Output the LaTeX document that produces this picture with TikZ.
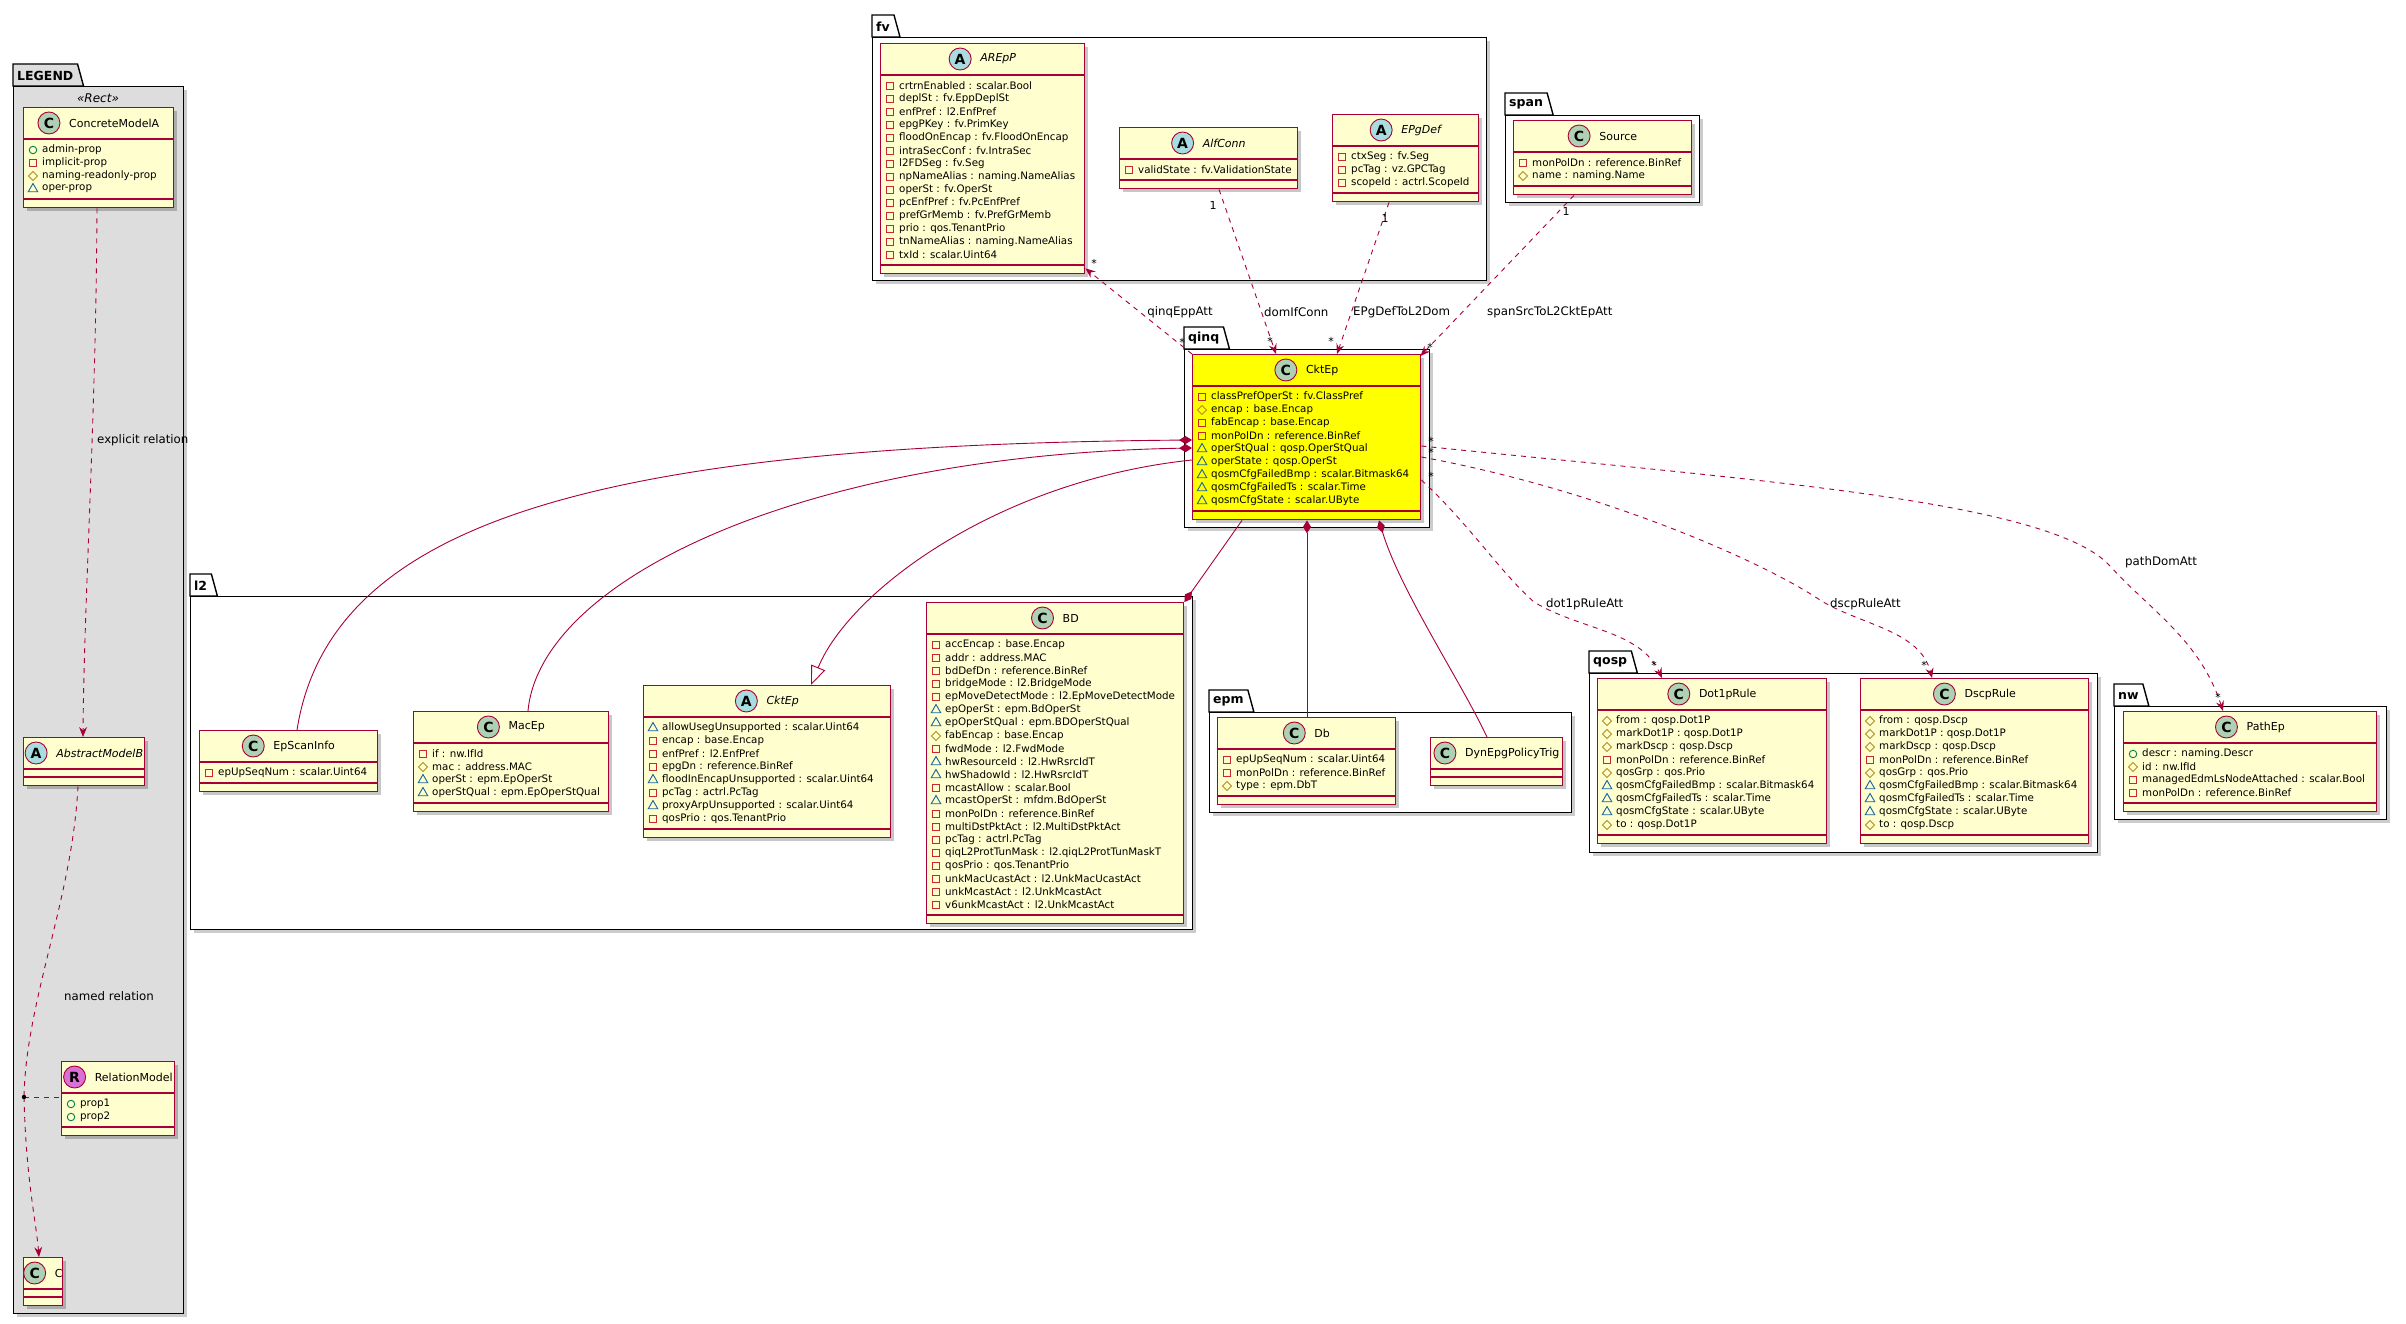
\documentclass[tikz,border=0pt]{standalone}
\usepackage{fontspec}
\setmainfont{DejaVu Sans}
\usetikzlibrary{arrows.meta,shapes.geometric,calc}
\definecolor{uml}{HTML}{A80036}
\definecolor{classbg}{HTML}{FEFECE}
\definecolor{circC}{HTML}{ADD1B2}
\definecolor{circA}{HTML}{A9DCDF}
\definecolor{circR}{HTML}{DA70D6}
\definecolor{privred}{HTML}{C82930}
\definecolor{protgold}{HTML}{B38D22}
\definecolor{pkgblue}{HTML}{1963A0}
\definecolor{pubgreen}{HTML}{038048}
\definecolor{legendbg}{HTML}{DDDDDD}
\definecolor{hiyellow}{HTML}{FFFF00}
\tikzset{
  attrtext/.style={font=\fontsize{10.3}{12}\selectfont, anchor=west, inner sep=0},
  titletext/.style={font=\fontsize{11}{13}\selectfont, inner sep=0},
  mkp/.style={rectangle, draw=privred, line width=0.9pt, minimum size=7pt, inner sep=0},
  mko/.style={diamond, draw=protgold, line width=0.9pt, minimum size=9.5pt, inner sep=0},
  mkk/.style={regular polygon, regular polygon sides=3, draw=pkgblue, line width=0.9pt, minimum size=11pt, inner sep=0},
  mku/.style={circle, draw=pubgreen, line width=0.9pt, minimum size=7.5pt, inner sep=0},
  classbox/.style={draw=uml, line width=1.4pt, inner sep=0, anchor=north west},
  depline/.style={uml, line width=0.9pt, dash pattern=on 5pt off 5pt},
  dep/.style={depline, -{Stealth[length=10pt,width=8pt,inset=3.5pt]}},
  assoc/.style={uml, line width=0.9pt},
  elabel/.style={font=\fontsize{11.8}{14}\selectfont, inner sep=0},
  mult/.style={font=\fontsize{11}{13}\selectfont, inner sep=0},
  pkgname/.style={font=\bfseries\fontsize{12.5}{14}\selectfont, inner sep=0, anchor=west},
}
% #1 name, #2 x1, #3 y1, #4 x2, #5 n attrs, #6 letter, #7 title, #8 attrs, #9 fill
\newcommand{\umlclass}[9]{%
  \pgfmathsetmacro{\cw}{#4-#2}%
  \pgfmathsetmacro{\ch}{48+13*#5}%
  \fill[black, opacity=0.22] (#2+4,#3+4) rectangle (#4+4,#3+\ch+4);
  \node[classbox, fill=#9, minimum width=\cw pt, minimum height=\ch pt] (#1) at (#2,#3) {};
  \draw[uml, line width=1.2pt] (#2,#3+32) -- (#4,#3+32);
  \draw[uml, line width=1.2pt] (#2,#3+\ch-8) -- (#4,#3+\ch-8);
  \node[titletext] (#1-t) at ($(#1.north)+(15.5,16)$) {#7};
  \node[circle, draw=uml, line width=0.9pt, fill=circ#6, minimum size=22pt, inner sep=0,
        font=\bfseries\fontsize{14}{14}\selectfont] (#1-c) at ($(#1-t.west)+(-20,0)$) {#6};
  \ifnum#5>0
  \foreach \q/\txt [count=\i from 0] in {#8} {
    \node[mk\q] at (#2+10,#3+43+13*\i) {};
    \node[attrtext] at (#2+19,#3+43+13*\i) {\txt};
  }
  \fi
}
% #1 name, #2 x1, #3 tab top, #4 x2, #5 bottom, #6 label, #7 fill
\newcommand{\umlpkg}[7]{%
  \pgfmathsetmacro{\pw}{#4-#2}%
  \pgfmathsetmacro{\ph}{#5-#3-22}%
  \fill[black,opacity=0.2] (#2+4,#3+26) rectangle (#4+4,#5+4);
  \node[pkgname] (#1-l) at (#2+4,#3+11.5) {\phantom{#6}};
  \draw[line width=1.4pt, fill=#7] (#2,#3+22) -- (#2,#3) -- ($(#1-l.east)+(4,-11.5)$) -- ($(#1-l.east)+(10,10.5)$) -- cycle;
  \node[draw, line width=1.4pt, fill=#7, minimum width=\pw pt, minimum height=\ph pt, anchor=north west, inner sep=0] (#1) at (#2,#3+22) {};
  \node[pkgname] (#1-n) at (#1-l.west) {#6};
}
\begin{document}
\begin{tikzpicture}[x=1pt,y=-1pt]
\fill[white] (0,0) rectangle (2406,1324);
\useasboundingbox (0,0) rectangle (2406,1324);

% ---------------- packages
\umlpkg{pLEGEND}{13}{64}{183}{1313}{LEGEND}{legendbg}
\umlpkg{pfv}{872}{15}{1486}{280}{fv}{white}
\umlpkg{pspan}{1505}{93}{1699}{202}{span}{white}
\umlpkg{pqinq}{1184}{327}{1429}{527}{qinq}{white}
\umlpkg{pl2}{190}{574}{1192}{929}{l2}{white}
\umlpkg{pepm}{1209}{690}{1571}{812}{epm}{white}
\umlpkg{pqosp}{1589}{651}{2097}{852}{qosp}{white}
\umlpkg{pnw}{2114}{684}{2386}{819}{nw}{white}
\node[font=\itshape\fontsize{12}{14}\selectfont, inner sep=0] (stereo) at (98,98) {«Rect»};

% ---------------- classes
\umlclass{ConcreteModelA}{23}{107}{173}{4}{C}{ConcreteModelA}{u/admin-prop, p/implicit-prop, o/naming-readonly-prop, k/oper-prop}{classbg}
\umlclass{AbstractModelB}{23}{737}{144}{0}{A}{\itshape AbstractModelB}{}{classbg}
\umlclass{RelationModel}{61}{1061}{174}{2}{R}{RelationModel}{u/prop1, u/prop2}{classbg}
\umlclass{Cc}{23}{1257}{62}{0}{C}{C}{}{classbg}

\umlclass{AREpP}{880}{43}{1084}{14}{A}{\itshape AREpP}{p/crtrnEnabled : scalar.Bool, p/deplSt : fv.EppDeplSt, p/enfPref : l2.EnfPref, p/epgPKey : fv.PrimKey, p/floodOnEncap : fv.FloodOnEncap, p/intraSecConf : fv.IntraSec, p/l2FDSeg : fv.Seg, p/npNameAlias : naming.NameAlias, p/operSt : fv.OperSt, p/pcEnfPref : fv.PcEnfPref, p/prefGrMemb : fv.PrefGrMemb, p/prio : qos.TenantPrio, p/tnNameAlias : naming.NameAlias, p/txId : scalar.Uint64}{classbg}
\umlclass{AlfConn}{1119}{127}{1297}{1}{A}{\itshape AlfConn}{p/validState : fv.ValidationState}{classbg}
\umlclass{EPgDef}{1332}{114}{1478}{3}{A}{\itshape EPgDef}{p/ctxSeg : fv.Seg, p/pcTag : vz.GPCTag, p/scopeId : actrl.ScopeId}{classbg}
\umlclass{Source}{1513}{120}{1691}{2}{C}{Source}{p/monPolDn : reference.BinRef, o/name : naming.Name}{classbg}
\umlclass{CktEp}{1192}{354}{1420}{9}{C}{CktEp}{p/classPrefOperSt : fv.ClassPref, o/encap : base.Encap, p/fabEncap : base.Encap, p/monPolDn : reference.BinRef, k/operStQual : qosp.OperStQual, k/operState : qosp.OperSt, k/qosmCfgFailedBmp : scalar.Bitmask64, k/qosmCfgFailedTs : scalar.Time, k/qosmCfgState : scalar.UByte}{hiyellow}

\umlclass{EpScanInfo}{199}{730}{377}{1}{C}{EpScanInfo}{p/epUpSeqNum : scalar.Uint64}{classbg}
\umlclass{MacEp}{413}{711}{608}{4}{C}{MacEp}{p/if : nw.IfId, o/mac : address.MAC, k/operSt : epm.EpOperSt, k/operStQual : epm.EpOperStQual}{classbg}
\umlclass{L2CktEp}{643}{685}{890}{8}{A}{\itshape CktEp}{k/allowUsegUnsupported : scalar.Uint64, p/encap : base.Encap, p/enfPref : l2.EnfPref, p/epgDn : reference.BinRef, k/floodInEncapUnsupported : scalar.Uint64, p/pcTag : actrl.PcTag, k/proxyArpUnsupported : scalar.Uint64, p/qosPrio : qos.TenantPrio}{classbg}
\umlclass{BD}{926}{602}{1183}{21}{C}{BD}{p/accEncap : base.Encap, p/addr : address.MAC, p/bdDefDn : reference.BinRef, p/bridgeMode : l2.BridgeMode, p/epMoveDetectMode : l2.EpMoveDetectMode, k/epOperSt : epm.BdOperSt, k/epOperStQual : epm.BDOperStQual, o/fabEncap : base.Encap, p/fwdMode : l2.FwdMode, k/hwResourceId : l2.HwRsrcIdT, k/hwShadowId : l2.HwRsrcIdT, p/mcastAllow : scalar.Bool, k/mcastOperSt : mfdm.BdOperSt, p/monPolDn : reference.BinRef, p/multiDstPktAct : l2.MultiDstPktAct, p/pcTag : actrl.PcTag, p/qiqL2ProtTunMask : l2.qiqL2ProtTunMaskT, p/qosPrio : qos.TenantPrio, p/unkMacUcastAct : l2.UnkMacUcastAct, p/unkMcastAct : l2.UnkMcastAct, p/v6unkMcastAct : l2.UnkMcastAct}{classbg}

\umlclass{Db}{1217}{717}{1395}{3}{C}{Db}{p/epUpSeqNum : scalar.Uint64, p/monPolDn : reference.BinRef, o/type : epm.DbT}{classbg}
\umlclass{DynEpg}{1430}{737}{1562}{0}{C}{DynEpgPolicyTrig}{}{classbg}

\umlclass{Dot1pRule}{1597}{678}{1826}{9}{C}{Dot1pRule}{o/from : qosp.Dot1P, o/markDot1P : qosp.Dot1P, o/markDscp : qosp.Dscp, p/monPolDn : reference.BinRef, o/qosGrp : qos.Prio, k/qosmCfgFailedBmp : scalar.Bitmask64, k/qosmCfgFailedTs : scalar.Time, k/qosmCfgState : scalar.UByte, o/to : qosp.Dot1P}{classbg}
\umlclass{DscpRule}{1860}{678}{2088}{9}{C}{DscpRule}{o/from : qosp.Dscp, o/markDot1P : qosp.Dot1P, o/markDscp : qosp.Dscp, p/monPolDn : reference.BinRef, o/qosGrp : qos.Prio, k/qosmCfgFailedBmp : scalar.Bitmask64, k/qosmCfgFailedTs : scalar.Time, k/qosmCfgState : scalar.UByte, o/to : qosp.Dscp}{classbg}
\umlclass{PathEp}{2123}{711}{2376}{4}{C}{PathEp}{u/descr : naming.Descr, o/id : nw.IfId, p/managedEdmLsNodeAttached : scalar.Bool, p/monPolDn : reference.BinRef}{classbg}

% ---------------- legend connectors
\coordinate (jn) at (24,1097);
\draw[dep] ($(ConcreteModelA.south west)+(74,0)$) .. controls (96,420) and (84,600) .. ($(AbstractModelB.north west)+(60,0)$);
\node[elabel, anchor=west] (lexpl) at (97,440) {explicit relation};
\draw[depline] ($(AbstractModelB.south west)+(55,0)$) .. controls (72,900) and (26,1000) .. (jn);
\draw[dep] (jn) .. controls (26,1180) and (36,1220) .. ($(Cc.north west)+(16,0)$);
\draw[depline] (jn) -- (RelationModel.west |- jn);
\fill[black] (jn) circle (2.2);
\node[elabel, anchor=west] (lnamed) at (64,996) {named relation};

% ---------------- top associations
\draw[dep] (CktEp.north west) -- ($(AREpP.south east)+(0,-6)$);
\node[mult] (m1a) at (1094,263) {*};
\node[mult] (m1b) at (1182,342) {*};
\node[elabel] (l1) at (1180,312) {qinqEppAtt};

\draw[dep] ($(AlfConn.south west)+(100,0)$) -- ($(CktEp.north west)+(84,0)$);
\node[mult] (m2a) at (1213,205) {1};
\node[mult] (m2b) at (1270,341) {*};
\node[elabel, anchor=west] (l2) at (1264,312) {domIfConn};

\draw[dep] ($(EPgDef.south west)+(57,0)$) -- ($(CktEp.north west)+(145,0)$);
\node[mult] (m3a) at (1385,218) {1};
\node[mult] (m3b) at (1331,341) {*};
\node[elabel, anchor=west] (l3) at (1353,312) {EPgDefToL2Dom};

\draw[dep] ($(Source.south west)+(61,0)$) -- ($(CktEp.north east)+(-1,2)$);
\node[mult] (m4a) at (1566,211) {1};
\node[mult] (m4b) at (1430,347) {*};
\node[elabel, anchor=west] (l4) at (1487,312) {spanSrcToL2CktEpAtt};

% ---------------- right associations
\coordinate (vp5) at (2110,566);
\coordinate (vp6) at (1820,600);
\coordinate (vp7) at (1534,602);
\draw[dep] ($(CktEp.north east)+(0,92)$) .. controls (1750,480) and (2050,500) .. (vp5) .. controls (2150,610) and (2200,640) .. ($(PathEp.north west)+(100,0)$);
\node[mult] (m5a) at (1431,441) {*};
\node[mult] (m5b) at (2218,697) {*};
\node[elabel, anchor=west] (l5) at (2125,562) {pathDomAtt};

\draw[dep] ($(CktEp.north east)+(0,103)$) .. controls (1600,490) and (1760,560) .. (vp6) .. controls (1860,625) and (1920,630) .. ($(DscpRule.north west)+(72,0)$);
\node[mult] (m6a) at (1431,452) {*};
\node[mult] (m6b) at (1924,665) {*};
\node[elabel, anchor=west] (l6) at (1830,604) {dscpRuleAtt};

\draw[dep] ($(CktEp.north east)+(0,126)$) .. controls (1470,525) and (1500,572) .. (vp7) .. controls (1580,630) and (1640,630) .. ($(Dot1pRule.north west)+(65,0)$);
\node[mult] (m7a) at (1431,476) {*};
\node[mult] (m7b) at (1654,665) {*};
\node[elabel, anchor=west] (l7) at (1546,604) {dot1pRuleAtt};

% ---------------- compositions / inheritance
\draw[assoc, {Diamond[length=13pt,width=8pt]}-] ($(CktEp.north west)+(0,86)$) .. controls (600,445) and (330,520) .. ($(EpScanInfo.north west)+(98,0)$);
\draw[assoc, {Diamond[length=13pt,width=8pt]}-] ($(CktEp.north west)+(0,94)$) .. controls (800,455) and (540,580) .. ($(MacEp.north west)+(115,0)$);
\draw[assoc, -{Triangle[length=19pt,width=15pt,fill=white]}] ($(CktEp.north west)+(0,106)$) .. controls (1000,480) and (850,590) .. ($(L2CktEp.north west)+(168,0)$);
\draw[assoc, -{Diamond[length=13pt,width=8pt]}] ($(CktEp.south west)+(50,0)$) -- (BD.north east);
\draw[assoc, {Diamond[length=13pt,width=8pt]}-] ($(CktEp.south west)+(115,0)$) -- ($(Db.north west)+(90,0)$);
\draw[assoc, {Diamond[length=13pt,width=8pt]}-] ($(CktEp.south west)+(187,0)$) .. controls (1400,590) and (1460,680) .. ($(DynEpg.north west)+(57,0)$);
\end{tikzpicture}
\end{document}
